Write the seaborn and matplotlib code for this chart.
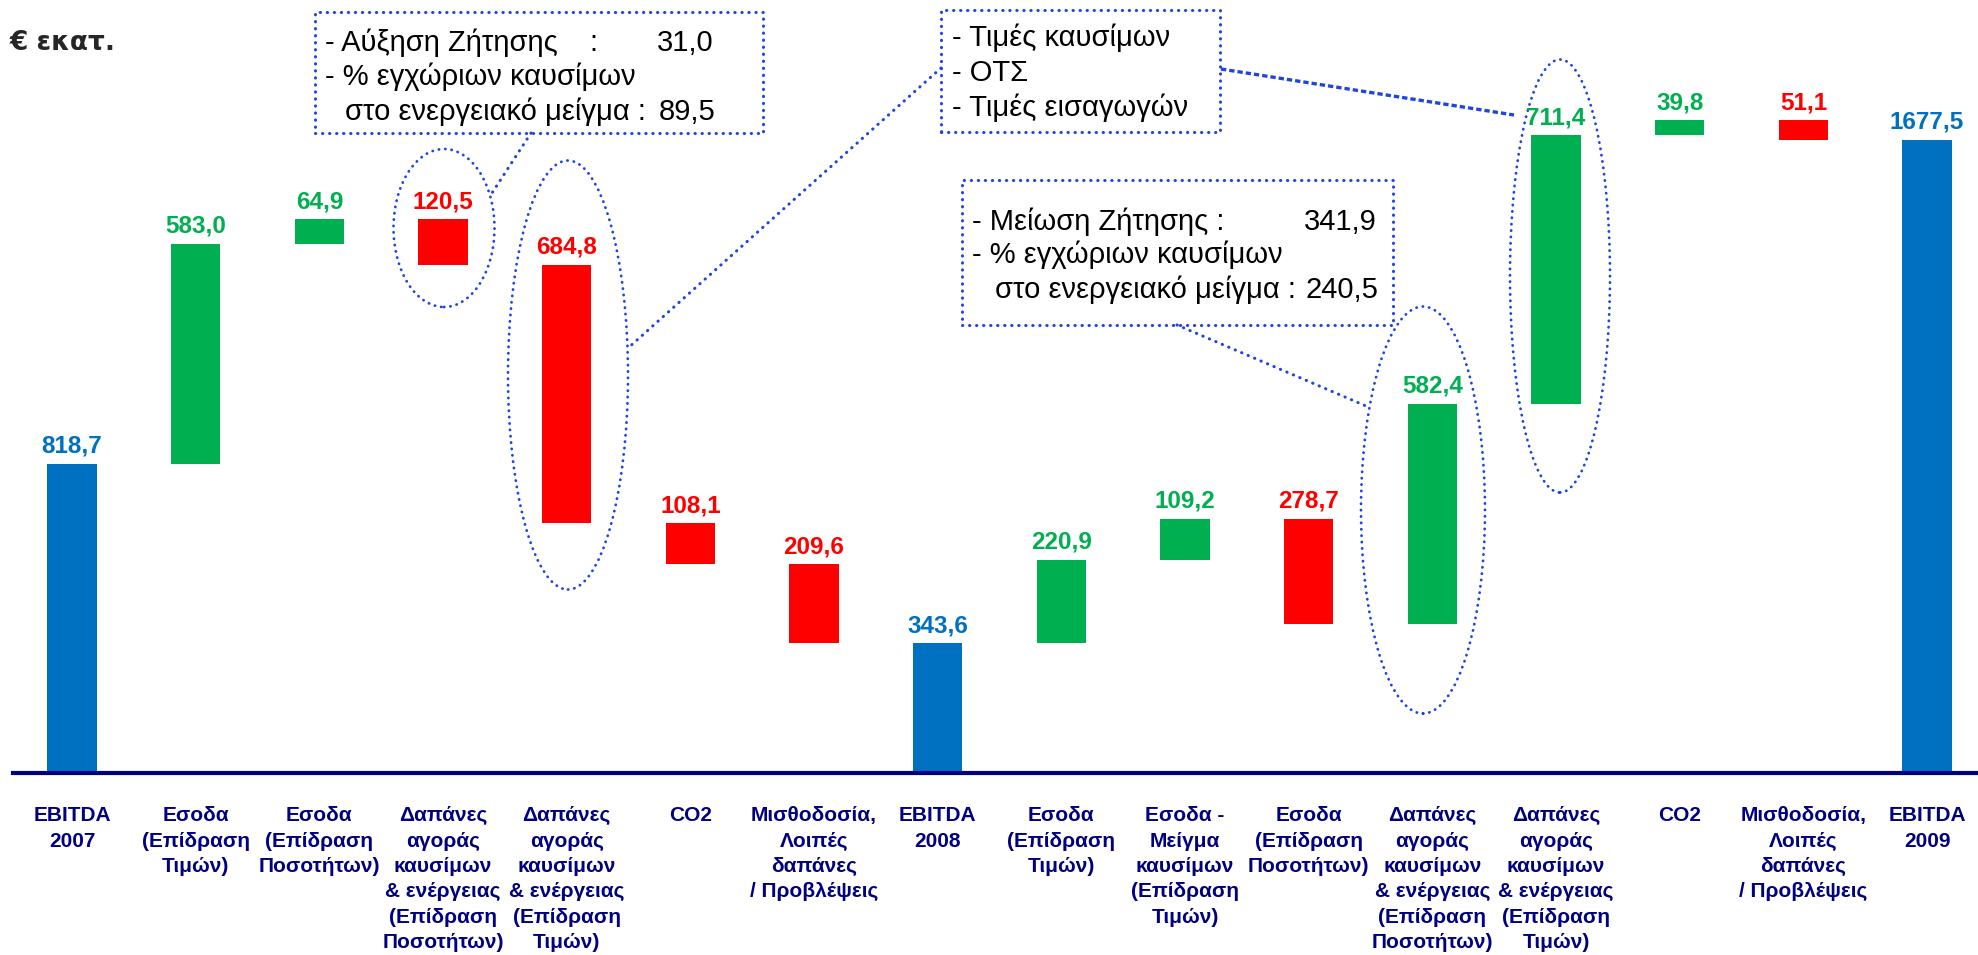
import matplotlib
matplotlib.use("Agg")
import matplotlib.pyplot as plt
from matplotlib.patches import Ellipse, Rectangle
import seaborn as sns
import pandas as pd

# ---- data -------------------------------------------------------------
categories = [
    "EBITDA\n2007",
    "Εσοδα\n(Επίδραση\nΤιμών)",
    "Εσοδα\n(Επίδραση\nΠοσοτήτων)",
    "Δαπάνες\nαγοράς\nκαυσίμων\n& ενέργειας\n(Επίδραση\nΠοσοτήτων)",
    "Δαπάνες\nαγοράς\nκαυσίμων\n& ενέργειας\n(Επίδραση\nΤιμών)",
    "CO2",
    "Μισθοδοσία,\nΛοιπές\nδαπάνες\n/ Προβλέψεις",
    "EBITDA\n2008",
    "Εσοδα\n(Επίδραση\nΤιμών)",
    "Εσοδα -\nΜείγμα\nκαυσίμων\n(Επίδραση\nΤιμών)",
    "Εσοδα\n(Επίδραση\nΠοσοτήτων)",
    "Δαπάνες\nαγοράς\nκαυσίμων\n& ενέργειας\n(Επίδραση\nΠοσοτήτων)",
    "Δαπάνες\nαγοράς\nκαυσίμων\n& ενέργειας\n(Επίδραση\nΤιμών)",
    "CO2",
    "Μισθοδοσία,\nΛοιπές\nδαπάνες\n/ Προβλέψεις",
    "EBITDA\n2009",
]
values = [818.7, 583.0, 64.9, 120.5, 684.8, 108.1, 209.6, 343.6,
          220.9, 109.2, 278.7, 582.4, 711.4, 39.8, 51.1, 1677.5]
kinds = ["total", "up", "up", "down", "down", "down", "down", "total",
         "up", "up", "down", "up", "up", "up", "down", "total"]

BLUE, GREEN, RED = "#0070C0", "#00B050", "#FF0000"
NAVY = "#000080"
DOT = "#1F45E0"
colors = {"total": BLUE, "up": GREEN, "down": RED}

# waterfall: where each floating bar starts
bottoms = []
running = 0.0
for v, k in zip(values, kinds):
    if k == "total":
        bottoms.append(0.0)
        running = v
    elif k == "up":
        bottoms.append(running)
        running += v
    else:
        running -= v
        bottoms.append(running)

df = pd.DataFrame({"pos": range(len(values)), "value": values,
                   "bottom": bottoms, "kind": kinds})
df["top"] = df["bottom"] + df["value"]

# ---- figure -----------------------------------------------------------
sns.set_theme(style="white")
plt.rcParams["font.family"] = ["Liberation Sans", "DejaVu Sans"]

W, H = 1978, 955
X0, DX = 72, 123.67     # first bar centre / bar spacing (px)
Y0, DY = 773, 0.3775    # baseline (px) / px per unit
LEFT = 13

fig = plt.figure(figsize=(W / 100, H / 100), dpi=100)
ax = fig.add_axes([LEFT / W, (H - Y0) / H, 1 - LEFT / W, Y0 / H])


def px(x, y):
    # reference pixel -> data coords
    return (x - X0) / DX, (Y0 - y) / DY


sns.barplot(data=df, x="pos", y="value", orient="x", bottom=df["bottom"].values,
            color=BLUE, saturation=1, width=0.4, errorbar=None, linewidth=0, ax=ax)
for patch, k in zip(ax.patches, kinds):
    patch.set_facecolor(colors[k])

ax.set_xlim((LEFT - X0) / DX, (W - X0) / DX)
ax.set_ylim(0, Y0 / DY)
ax.set(xlabel="", ylabel="")
ax.set_yticks([])
sns.despine(ax=ax, left=True)
ax.spines["bottom"].set_color(NAVY)
ax.spines["bottom"].set_linewidth(3)

ax.set_xticks(df["pos"])
ax.set_xticklabels(categories, fontsize=15, fontweight="bold", color=NAVY,
                   linespacing=1.42)
ax.tick_params(axis="x", length=0, pad=24)

# value labels
for _, r in df.iterrows():
    ax.annotate(f"{r['value']:.1f}".replace(".", ","), (r["pos"], r["top"]),
                xytext=(0, 8), textcoords="offset points", ha="center",
                va="baseline", fontsize=17.5, fontweight="bold",
                color=colors[r["kind"]])

fig.text(10 / W, 1 - 50 / H, "€ εκατ.", fontsize=19, fontweight="bold",
         family="DejaVu Sans", va="baseline")

# ---- call-outs --------------------------------------------------------
dots = (0, (0.1, 2.2))


def box(x0, y0, x1, y1):
    bx, by = px(x0, y1)
    tx, ty = px(x1, y0)
    ax.add_patch(Rectangle((bx, by), tx - bx, ty - by, fill=False, ec=DOT,
                           lw=2.2, ls=dots, capstyle="round", clip_on=False))


def ring(cx, cy, w, h):
    ax.add_patch(Ellipse(px(cx, cy), w / DX, h / DY, fill=False, ec=DOT,
                         lw=2.0, ls=dots, capstyle="round", clip_on=False))


def link(x0, y0, x1, y1, ls=dots, lw=2.2, cap="round"):
    a, b = px(x0, y0), px(x1, y1)
    ax.plot([a[0], b[0]], [a[1], b[1]], color=DOT, lw=lw, ls=ls,
            dash_capstyle=cap, clip_on=False)


def say(x, y, s, ha="left"):
    ax.text(*px(x, y), s, fontsize=21, ha=ha, va="center", color="black")


box(315, 12, 763, 133)
say(325, 43, "- Αύξηση Ζήτησης")
say(593, 43, ":", ha="center")
say(713, 43, "31,0", ha="right")
say(325, 77, "- % εγχώριων καυσίμων")
say(345, 112, "στο ενεργειακό μείγμα :")
say(715, 112, "89,5", ha="right")

box(941, 10, 1220, 132)
say(952, 38, "- Τιμές καυσίμων")
say(952, 73, "- ΟΤΣ")
say(952, 108, "- Τιμές εισαγωγών")

box(962, 180, 1393, 325)
say(972, 222, "- Μείωση Ζήτησης :")
say(1377, 222, "341,9", ha="right")
say(972, 255, "- % εγχώριων καυσίμων")
say(995, 290, "στο ενεργειακό μείγμα :")
say(1378, 290, "240,5", ha="right")

ring(444, 228, 101, 158)
ring(568, 375, 120, 429)
ring(1423, 510, 124, 407)
ring(1560, 276, 100, 433)

link(531, 133, 492, 193)
link(941, 68, 627, 349)
link(1221, 69, 1514, 115, ls=(0, (1.6, 0.9)), lw=2.4, cap="butt")
link(1177, 325, 1366, 406)

fig.savefig("out.png", dpi=100)
